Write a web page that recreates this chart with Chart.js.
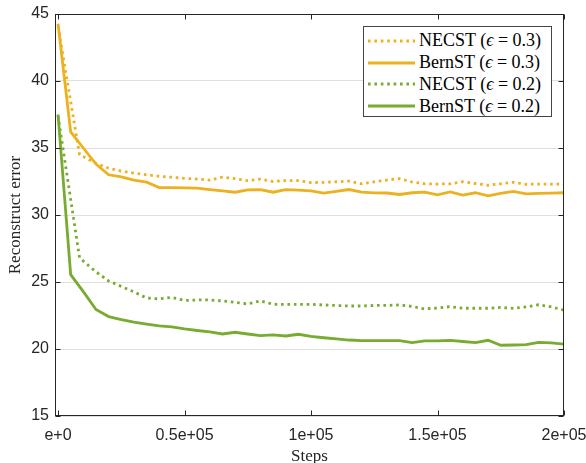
<!DOCTYPE html>
<html>
<head>
<meta charset="utf-8">
<script src="https://cdn.jsdelivr.net/npm/chart.js@4.4.0/dist/chart.umd.min.js"></script>
<style>
  html, body { margin: 0; padding: 0; background: #fff; }
  #wrap { position: relative; width: 586px; height: 463px; }
  #chart { position: absolute; left: 0; top: 0; }
  #legend {
    position: absolute; left: 363px; top: 26px;
    width: 187px; height: 86px; padding-top: 3px;
    border: 1px solid #454545; background: #fff;
    font-family: "Liberation Serif", "Times New Roman", serif;
    font-size: 18px; color: #000;
  }
  .row { display: flex; align-items: center; height: 21.8px; white-space: nowrap; }
  .row svg { margin: 0 4px; flex: none; }
</style>
</head>
<body>
<div id="wrap">
  <canvas id="chart" width="586" height="463"></canvas>
  <div id="legend"></div>
</div>
<script>
// steps (x values)
const bernSteps = [0, 5000, 10000, 15000, 20000, 25000, 30000, 35000, 40000, 45000,
  50000, 55000, 60000, 65000, 70000, 75000, 80000, 85000, 90000, 95000,
  100000, 105000, 110000, 115000, 120000, 125000, 130000, 135000, 140000, 145000,
  150000, 155000, 160000, 165000, 170000, 175000, 180000, 185000, 190000, 195000, 200000];
const necstSteps = [0, 8500, 15000, 20000, 25000, 30000, 35000, 40000, 45000,
  50000, 55000, 60000, 65000, 70000, 75000, 80000, 85000, 90000, 95000,
  100000, 105000, 110000, 115000, 120000, 125000, 130000, 135000, 140000, 145000,
  150000, 155000, 160000, 165000, 170000, 175000, 180000, 185000, 190000, 195000, 200000];

// reconstruct error
const necst03 = [44.1, 34.5, 33.86, 33.49, 33.28, 33.13, 33.0, 32.89, 32.82,
  32.74, 32.68, 32.6, 32.83, 32.71, 32.56, 32.68, 32.5, 32.57, 32.56,
  32.42, 32.44, 32.48, 32.53, 32.33, 32.48, 32.61, 32.72, 32.46, 32.33,
  32.31, 32.33, 32.48, 32.35, 32.22, 32.33, 32.44, 32.29, 32.31, 32.31, 32.31];
const bernst03 = [44.27, 36.2, 35.0, 33.8, 33.0, 32.85, 32.6, 32.45, 32.05, 32.05,
  32.03, 32.0, 31.9, 31.8, 31.7, 31.88, 31.9, 31.7, 31.9, 31.85,
  31.8, 31.64, 31.77, 31.9, 31.7, 31.65, 31.64, 31.53, 31.66, 31.7,
  31.5, 31.72, 31.49, 31.66, 31.43, 31.62, 31.76, 31.58, 31.62, 31.63, 31.66];
const necst02 = [37.4, 26.8, 25.76, 25.08, 24.67, 24.26, 23.81, 23.74, 23.85,
  23.62, 23.66, 23.66, 23.59, 23.48, 23.36, 23.59, 23.34, 23.33, 23.33,
  23.33, 23.29, 23.25, 23.21, 23.21, 23.25, 23.25, 23.29, 23.18, 22.99,
  23.06, 23.16, 23.04, 23.04, 23.04, 23.1, 23.03, 23.14, 23.3, 23.14, 22.9];
const bernst02 = [37.5, 25.55, 24.28, 22.95, 22.42, 22.2, 22.0, 21.85, 21.72, 21.65,
  21.5, 21.38, 21.27, 21.12, 21.25, 21.12, 21.0, 21.05, 20.97, 21.1,
  20.95, 20.84, 20.75, 20.67, 20.62, 20.62, 20.62, 20.62, 20.47, 20.6,
  20.6, 20.64, 20.56, 20.47, 20.65, 20.28, 20.3, 20.32, 20.5, 20.45, 20.37];

const xTickValues = [0, 50000, 100000, 150000, 200000];
const xTickLabels = ['e+0', '0.5e+05', '1e+05', '1.5e+05', '2e+05'];
const yTickValues = [15, 20, 25, 30, 35, 40, 45];
const yTickLabels = ['15', '20', '25', '30', '35', '40', '45'];

const ORANGE = '#EDB120';
const GREEN = '#77AC30';
const DOT = [2.6, 3.8];

const series = [
  { name: 'NECST', eps: '0.3', steps: necstSteps, values: necst03, color: ORANGE, dash: DOT },
  { name: 'BernST', eps: '0.3', steps: bernSteps, values: bernst03, color: ORANGE, dash: [] },
  { name: 'NECST', eps: '0.2', steps: necstSteps, values: necst02, color: GREEN, dash: DOT },
  { name: 'BernST', eps: '0.2', steps: bernSteps, values: bernst02, color: GREEN, dash: [] }
];

// box around the axes with inward ticks (matlab style)
const frame = {
  id: 'frame',
  afterDatasetsDraw(chart) {
    const { ctx, chartArea: a, scales: { x, y } } = chart;
    const L = Math.round(a.left) + 0.5, R = Math.round(a.right) - 0.5;
    const T = Math.round(a.top) + 0.5, B = Math.round(a.bottom) - 0.5;
    ctx.save();
    ctx.strokeStyle = '#262626';
    ctx.lineWidth = 1;
    ctx.strokeRect(L, T, R - L, B - T);
    ctx.beginPath();
    xTickValues.forEach(v => {
      const px = Math.round(x.getPixelForValue(v)) + 0.5;
      ctx.moveTo(px, B); ctx.lineTo(px, B - 5);
      ctx.moveTo(px, T); ctx.lineTo(px, T + 5);
    });
    yTickValues.forEach(v => {
      const py = Math.round(y.getPixelForValue(v)) + 0.5;
      ctx.moveTo(L, py); ctx.lineTo(L + 5, py);
      ctx.moveTo(R, py); ctx.lineTo(R - 5, py);
    });
    ctx.stroke();
    ctx.restore();
  }
};

new Chart(document.getElementById('chart'), {
  type: 'line',
  data: {
    datasets: series.map(s => ({
      label: s.name + ' (ε = ' + s.eps + ')',
      data: s.steps.map((st, i) => ({ x: st, y: s.values[i] })),
      borderColor: s.color,
      backgroundColor: s.color,
      borderWidth: 2.8,
      borderDash: s.dash,
      pointRadius: 0,
      tension: 0,
      fill: false
    }))
  },
  options: {
    responsive: false,
    animation: false,
    devicePixelRatio: 1,
    layout: { padding: { left: 0, right: 22, top: 14, bottom: 0 } },
    plugins: { legend: { display: false }, tooltip: { enabled: false } },
    scales: {
      x: {
        type: 'linear', min: -1200, max: 200000,
        afterBuildTicks: s => { s.ticks = xTickValues.map(v => ({ value: v })); },
        afterFit: s => { s.height = 47; s.paddingLeft = 0; s.paddingRight = 0; },
        grid: { display: false, drawTicks: false },
        border: { display: false },
        ticks: {
          callback: (v, i) => xTickLabels[i],
          font: { family: 'Liberation Sans', size: 16 },
          color: '#262626', padding: 10, maxRotation: 0, autoSkip: false
        },
        title: {
          display: true, text: 'Steps', color: '#262626',
          font: { family: 'Liberation Serif', size: 17, lineHeight: 1 },
          padding: { top: 0, bottom: -2 }
        }
      },
      y: {
        min: 15, max: 45,
        afterBuildTicks: s => { s.ticks = yTickValues.map(v => ({ value: v })); },
        afterFit: s => { s.width = 55; s.paddingTop = 0; s.paddingBottom = 0; },
        grid: { color: '#dfdfdf', lineWidth: 1, drawTicks: false },
        border: { display: false },
        ticks: {
          callback: (v, i) => yTickLabels[i],
          font: { family: 'Liberation Sans', size: 16 },
          color: '#262626', padding: 6
        },
        title: {
          display: true, text: 'Reconstruct error', color: '#262626',
          font: { family: 'Liberation Serif', size: 17, lineHeight: 1 },
          padding: { top: 7, bottom: 0 }
        }
      }
    }
  },
  plugins: [frame]
});

// legend as html so the epsilon can be italic
const legend = document.getElementById('legend');
series.forEach(s => {
  const row = document.createElement('div');
  row.className = 'row';
  const dash = s.dash.length ? ` stroke-dasharray="${s.dash.join(' ')}"` : '';
  row.innerHTML = `<svg width="47" height="6"><line x1="0" y1="3" x2="47" y2="3" stroke="${s.color}" stroke-width="2.8"${dash}/></svg>` +
    `<span>${s.name} (<i>ϵ</i> = ${s.eps})</span>`;
  legend.appendChild(row);
});
</script>
</body>
</html>
